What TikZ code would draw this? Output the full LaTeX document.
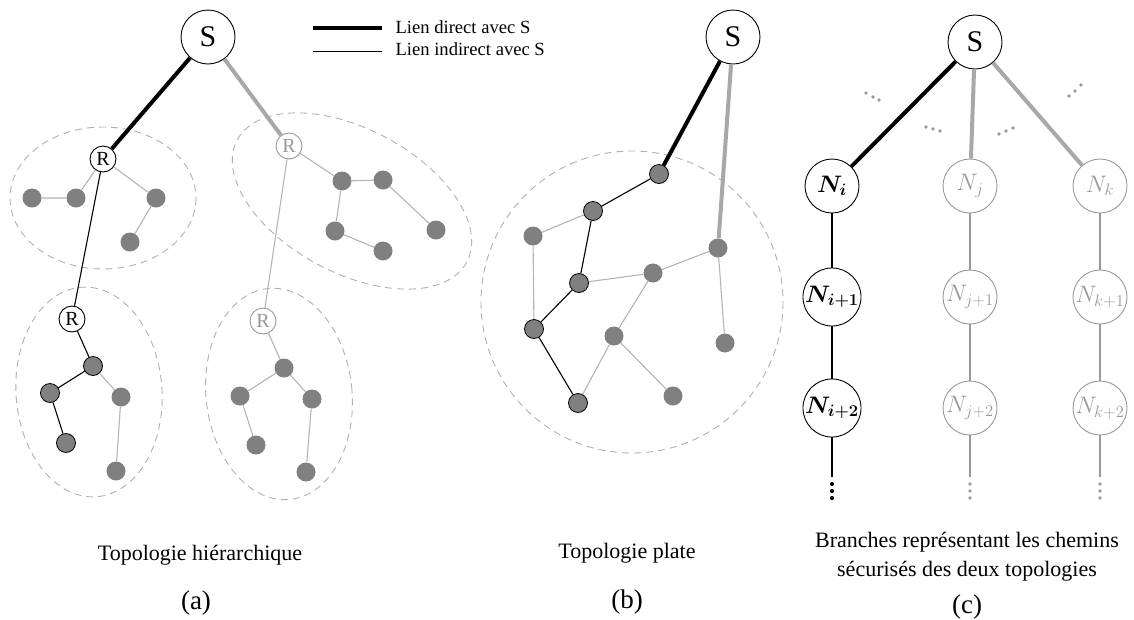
\documentclass[tikz,border=0pt]{standalone}
\usepackage{fontspec}
\setmainfont{Liberation Serif}
\usepackage{bm}

\begin{document}
\begin{tikzpicture}[x=1pt,y=-1pt]

% Couleurs
\definecolor{nodeGray}{HTML}{808080}
\definecolor{lineGray}{HTML}{B4B4B4}
\definecolor{thickGray}{HTML}{A8A8A8}
\definecolor{zoneGray}{HTML}{B0B0B0}
\definecolor{textGray}{HTML}{999999}

\tikzset{
  sink/.style={circle, draw, line width=0.9pt, fill=white, minimum size=54pt, inner sep=0pt, font=\fontsize{30}{30}\selectfont},
  relay/.style={circle, draw, line width=0.9pt, fill=white, minimum size=26pt, inner sep=0pt, font=\fontsize{20}{20}\selectfont},
  relayg/.style={relay, draw=textGray, text=textGray},
  capt/.style={circle, fill=nodeGray, minimum size=19pt, inner sep=0pt},
  captb/.style={capt, draw=black, line width=0.8pt},
  maillon/.style={circle, draw, line width=0.9pt, fill=white, minimum size=54pt, inner sep=0pt, font=\fontsize{20}{20}\selectfont},
  maillong/.style={maillon, draw=textGray, text=textGray},
  zone/.style={draw=zoneGray, dash pattern=on 7pt off 5pt, line width=0.9pt},
  direct/.style={line width=4pt},
  directg/.style={direct, draw=thickGray},
  lk/.style={line width=1.1pt},
  lkg/.style={lk, draw=lineGray},
  lkc/.style={lk, draw=textGray},
  lbl/.style={font=\fontsize{22}{29}\selectfont, align=center},
  lettre/.style={font=\fontsize{27}{27}\selectfont},
}
\newcommand{\lbN}[1]{\scalebox{1.15}{$#1$}}

\useasboundingbox (0,0) rectangle (1134,619);

% Legende
\draw[direct] (313,28) -- (382,28);
\draw[line width=1pt] (313,51) -- (382,51);
\node[anchor=west, font=\fontsize{18.6}{20}\selectfont] (legD) at (392,27) {Lien direct avec S};
\node[anchor=west, font=\fontsize{18.6}{20}\selectfont] (legI) at (392,49) {Lien indirect avec S};

% ---------------- (a) Topologie hierarchique ----------------
\draw[zone] (103,198) ellipse [x radius=93, y radius=71];
\draw[zone, rotate around={-28:(352,201)}] (352,201) ellipse [x radius=130, y radius=72];
\draw[zone, rotate around={4:(89,392)}] (89,392) ellipse [x radius=73, y radius=105];
\draw[zone, rotate around={6:(279,394)}] (279,394) ellipse [x radius=73, y radius=106];

\node[sink] (Sa) at (208,37) {S};
\node[relay] (Ra1) at (103,159) {R};
\node[relayg] (Ra2) at (289,146) {R};
\node[relay] (Ra3) at (72,319) {R};
\node[relayg] (Ra4) at (263,321) {R};

% cluster 1
\node[capt] (a11) at (32,198) {};
\node[capt] (a12) at (76,198) {};
\node[capt] (a13) at (156,198) {};
\node[capt] (a14) at (130,242) {};
% cluster 2
\node[capt] (a21) at (342,181) {};
\node[capt] (a22) at (383,180) {};
\node[capt] (a23) at (335,231) {};
\node[capt] (a24) at (383,251) {};
\node[capt] (a25) at (436,230) {};
% cluster 3
\node[captb] (a31) at (93,366) {};
\node[captb] (a32) at (50,393) {};
\node[captb] (a33) at (66,443) {};
\node[capt] (a34) at (121,397) {};
\node[capt] (a35) at (116,471) {};
% cluster 4
\node[capt] (a41) at (284,368) {};
\node[capt] (a42) at (240,396) {};
\node[capt] (a43) at (312,399) {};
\node[capt] (a44) at (256,445) {};
\node[capt] (a45) at (306,472) {};

\draw[direct] (Sa) -- (Ra1);
\draw[directg] (Sa) -- (Ra2);
\draw[lk] (Ra1) -- (Ra3);
\draw[lkg] (Ra2) -- (Ra4);

\draw[lkg] (Ra1) -- (a12) (a11) -- (a12) (Ra1) -- (a13) (a13) -- (a14);
\draw[lkg] (Ra2) -- (a21) (a21) -- (a22) (a21) -- (a23) (a23) -- (a24) (a22) -- (a25);
\draw[lk] (Ra3) -- (a31) (a31) -- (a32) (a32) -- (a33);
\draw[lkg] (a31) -- (a34) (a34) -- (a35);
\draw[lkg] (Ra4) -- (a41) (a41) -- (a42) (a41) -- (a43) (a42) -- (a44) (a43) -- (a45);

\node[lbl] (capA) at (200,555) {Topologie hiérarchique};
\node[lettre] (letA) at (196,603) {(a)};

% ---------------- (b) Topologie plate ----------------
\draw[zone] (632,302) circle [radius=151];

\node[sink] (Sb) at (733,37) {S};
\node[captb] (b1) at (659,174) {};
\node[captb] (b2) at (593,211) {};
\node[capt] (b3) at (533,236) {};
\node[capt] (b4) at (718,248) {};
\node[capt] (b5) at (653,273) {};
\node[captb] (b6) at (579,283) {};
\node[captb] (b7) at (534,329) {};
\node[capt] (b8) at (614,336) {};
\node[capt] (b9) at (725,343) {};
\node[capt] (b10) at (673,396) {};
\node[captb] (b11) at (578,403) {};

\draw[direct] (Sb) -- (b1);
\draw[directg] (Sb) -- (b4);
\draw[lk] (b1) -- (b2) (b2) -- (b6) (b6) -- (b7) (b7) -- (b11);
\draw[lkg] (b2) -- (b3) (b3) -- (b7) (b6) -- (b5) (b5) -- (b4) (b4) -- (b9)
  (b5) -- (b8) (b8) -- (b11) (b8) -- (b10);

\node[lbl] (capB) at (627,553) {Topologie plate};
\node[lettre] (letB) at (627,602) {(b)};

% ---------------- (c) Branches ----------------
\node[sink] (Sc) at (975,42) {S};
\node[maillon] (Ni) at (832,186) {\lbN{\bm{N_{i}}}};
\node[maillon] (Ni1) at (832,297) {\lbN{\bm{N_{i+1}}}};
\node[maillon] (Ni2) at (832,408) {\lbN{\bm{N_{i+2}}}};
\node[maillong] (Nj) at (970,186) {\lbN{N_{j}}};
\node[maillong] (Nj1) at (970,297) {\lbN{N_{j+1}}};
\node[maillong] (Nj2) at (970,408) {\lbN{N_{j+2}}};
\node[maillong] (Nk) at (1100,186) {\lbN{N_{k}}};
\node[maillong] (Nk1) at (1100,297) {\lbN{N_{k+1}}};
\node[maillong] (Nk2) at (1100,408) {\lbN{N_{k+2}}};
\coordinate (Ei) at (832,477);
\coordinate (Ej) at (970,477);
\coordinate (Ek) at (1100,477);

\draw[direct] (Sc) -- (Ni);
\draw[directg] (Sc) -- (Nj);
\draw[directg] (Sc) -- (Nk);
\draw[lk] (Ni) -- (Ni1) -- (Ni2) -- (Ei);
\draw[lkc] (Nj) -- (Nj1) -- (Nj2) -- (Ej);
\draw[lkc] (Nk) -- (Nk1) -- (Nk2) -- (Ek);

% points de suspension
\foreach \y in {484,491,498} {
  \fill (832,\y) circle (2.1);
  \fill[textGray] (970,\y) circle (1.8);
  \fill[textGray] (1100,\y) circle (1.8);
}
\foreach \x/\y in {866/93, 873/97, 879/100, 926/127, 933/129, 940/131,
                   999/134, 1006/131, 1013/128, 1069/96, 1075/91, 1081/85}
  \fill[textGray] (\x,\y) circle (1.8);

\node[lbl] (capC) at (967,557) {Branches représentant les chemins\\sécurisés des deux topologies};
\node[lettre] (letC) at (967,607) {(c)};

\end{tikzpicture}
\end{document}
